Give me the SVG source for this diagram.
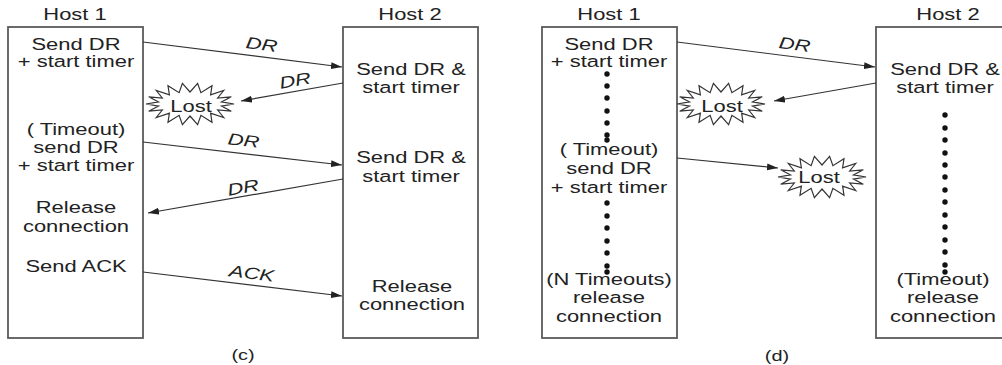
<svg xmlns="http://www.w3.org/2000/svg" width="1002" height="365" viewBox="0 0 1002 365">
<style>
.bg{fill:#fff}
.box{fill:#fff;stroke:#5a5a5a;stroke-width:1.8}
.t{font-family:"Liberation Sans",Arial,sans-serif;font-size:16.5px;fill:#222;text-anchor:middle}
.lbl{font-family:"Liberation Sans",Arial,sans-serif;font-size:16.5px;font-style:italic;fill:#222;text-anchor:middle}
.cap{font-family:"Liberation Sans",Arial,sans-serif;font-size:15px;fill:#222;text-anchor:middle}
.ln{stroke:#333;stroke-width:1.2;fill:none;marker-end:url(#ah)}
.star{fill:#fff;stroke:#333;stroke-width:1.2;stroke-linejoin:miter}
.dot{fill:#111}
</style>
<defs>
<marker id="ah" markerUnits="userSpaceOnUse" markerWidth="11" markerHeight="8" refX="11" refY="4" orient="auto">
<path d="M0,0.6 L11,4 L0,7.4 z" fill="#222"/>
</marker>
<polygon id="burst" points="44,0 31.5,2.1 41.3,7.2 27.7,6 33.7,13.5 20.6,9.2 22,18.2 10.9,11.3 7.6,20.7 0,12 -7.6,20.7 -10.9,11.3 -22,18.2 -20.6,9.2 -33.7,13.5 -27.7,6 -41.3,7.2 -31.5,2.1 -44,0 -31.5,-2.1 -41.3,-7.2 -27.7,-6 -33.7,-13.5 -20.6,-9.2 -22,-18.2 -10.9,-11.3 -7.6,-20.7 0,-12 7.6,-20.7 10.9,-11.3 22,-18.2 20.6,-9.2 33.7,-13.5 27.7,-6 41.3,-7.2 31.5,-2.1"/>
</defs>
<rect class="bg" x="0" y="0" width="1002" height="365"/>

<!-- Panel (c) -->
<g id="c-host1">
<text class="t" transform="translate(75,20) scale(1.33 1)">Host 1</text>
<rect class="box" x="8" y="27" width="135" height="311"/>
<text class="t" transform="translate(76,50) scale(1.33 1)">Send DR</text>
<text class="t" transform="translate(76,67) scale(1.33 1)">+ start timer</text>
<text class="t" transform="translate(76,135) scale(1.33 1)">( Timeout)</text>
<text class="t" transform="translate(76,153) scale(1.33 1)">send DR</text>
<text class="t" transform="translate(76,171) scale(1.33 1)">+ start timer</text>
<text class="t" transform="translate(76,213) scale(1.33 1)">Release</text>
<text class="t" transform="translate(76,232) scale(1.33 1)">connection</text>
<text class="t" transform="translate(76,272) scale(1.33 1)">Send ACK</text>
</g>
<g id="c-host2">
<text class="t" transform="translate(410,20) scale(1.33 1)">Host 2</text>
<rect class="box" x="343" y="27" width="135" height="311"/>
<text class="t" transform="translate(411,75) scale(1.33 1)">Send DR &amp;</text>
<text class="t" transform="translate(411,93) scale(1.33 1)">start timer</text>
<text class="t" transform="translate(411,163) scale(1.33 1)">Send DR &amp;</text>
<text class="t" transform="translate(411,182) scale(1.33 1)">start timer</text>
<text class="t" transform="translate(412,292) scale(1.33 1)">Release</text>
<text class="t" transform="translate(412,310) scale(1.33 1)">connection</text>
</g>
<g id="c-lost">
<use href="#burst" class="star" transform="translate(190,104)"/>
<text class="t" transform="translate(191,112) scale(1.33 1)">Lost</text>
</g>
<text id="c-caption" class="cap" transform="translate(243,360) scale(1.33 1)">(c)</text>

<!-- Panel (d) -->
<g id="d-host1">
<text class="t" transform="translate(609,20) scale(1.33 1)">Host 1</text>
<rect class="box" x="542" y="27" width="135" height="311"/>
<text class="t" transform="translate(609,50) scale(1.33 1)">Send DR</text>
<text class="t" transform="translate(609,67) scale(1.33 1)">+ start timer</text>
<g class="dot">
<circle cx="607" cy="74" r="2.7"/><circle cx="607" cy="86" r="2.7"/><circle cx="607" cy="98" r="2.7"/><circle cx="607" cy="111" r="2.7"/><circle cx="607" cy="123" r="2.7"/><circle cx="607" cy="135" r="2.7"/><circle cx="607" cy="140" r="2.7"/>
</g>
<text class="t" transform="translate(609,155) scale(1.33 1)">( Timeout)</text>
<text class="t" transform="translate(609,174) scale(1.33 1)">send DR</text>
<text class="t" transform="translate(609,193) scale(1.33 1)">+ start timer</text>
<g class="dot">
<circle cx="607" cy="203" r="2.7"/><circle cx="607" cy="216" r="2.7"/><circle cx="607" cy="228" r="2.7"/><circle cx="607" cy="241" r="2.7"/><circle cx="607" cy="253" r="2.7"/><circle cx="607" cy="266" r="2.7"/><circle cx="607" cy="272" r="2.7"/>
</g>
<text class="t" transform="translate(609,285) scale(1.33 1)">(N Timeouts)</text>
<text class="t" transform="translate(609,303) scale(1.33 1)">release</text>
<text class="t" transform="translate(609,322) scale(1.33 1)">connection</text>
</g>
<g id="d-host2">
<text class="t" transform="translate(948,20) scale(1.33 1)">Host 2</text>
<rect class="box" x="876" y="27" width="135" height="311"/>
<text class="t" transform="translate(945,75) scale(1.33 1)">Send DR &amp;</text>
<text class="t" transform="translate(945,93) scale(1.33 1)">start timer</text>
<g class="dot">
<circle cx="945" cy="115" r="2.7"/><circle cx="945" cy="128" r="2.7"/><circle cx="945" cy="140" r="2.7"/><circle cx="945" cy="153" r="2.7"/><circle cx="945" cy="165" r="2.7"/><circle cx="945" cy="177" r="2.7"/><circle cx="945" cy="190" r="2.7"/><circle cx="945" cy="202" r="2.7"/><circle cx="945" cy="215" r="2.7"/><circle cx="945" cy="227" r="2.7"/><circle cx="945" cy="240" r="2.7"/><circle cx="945" cy="252" r="2.7"/><circle cx="945" cy="265" r="2.7"/><circle cx="945" cy="272" r="2.7"/>
</g>
<text class="t" transform="translate(943,285) scale(1.33 1)">(Timeout)</text>
<text class="t" transform="translate(943,303) scale(1.33 1)">release</text>
<text class="t" transform="translate(943,322) scale(1.33 1)">connection</text>
</g>
<g id="d-lost1">
<use href="#burst" class="star" transform="translate(721,104)"/>
<text class="t" transform="translate(722,112) scale(1.33 1)">Lost</text>
</g>
<g id="d-lost2">
<use href="#burst" class="star" transform="translate(822,177)"/>
<text class="t" transform="translate(819,183) scale(1.33 1)">Lost</text>
</g>
<text id="d-caption" class="cap" transform="translate(777,361) scale(1.33 1)">(d)</text>

<!-- Connectors -->
<g id="connectors">
<line class="ln" x1="143" y1="42" x2="342" y2="67"/>
<text class="lbl" transform="translate(261,50) rotate(7.2) scale(1.33 1)">DR</text>
<line class="ln" x1="343" y1="83" x2="241" y2="101"/>
<text class="lbl" transform="translate(296,86) rotate(-10) scale(1.33 1)">DR</text>
<line class="ln" x1="143" y1="142" x2="342" y2="165"/>
<text class="lbl" transform="translate(243,146) rotate(6.7) scale(1.33 1)">DR</text>
<line class="ln" x1="343" y1="179" x2="148" y2="213"/>
<text class="lbl" transform="translate(244,193) rotate(-9.8) scale(1.33 1)">DR</text>
<line class="ln" x1="143" y1="272" x2="342" y2="296"/>
<text class="lbl" transform="translate(251,279) rotate(6.9) scale(1.33 1)">ACK</text>

<line class="ln" x1="677" y1="42" x2="875" y2="67"/>
<text class="lbl" transform="translate(794,50) rotate(7.2) scale(1.33 1)">DR</text>
<line class="ln" x1="876" y1="83" x2="774" y2="101"/>
<line class="ln" x1="677" y1="158" x2="778" y2="168"/>
</g>
</svg>
